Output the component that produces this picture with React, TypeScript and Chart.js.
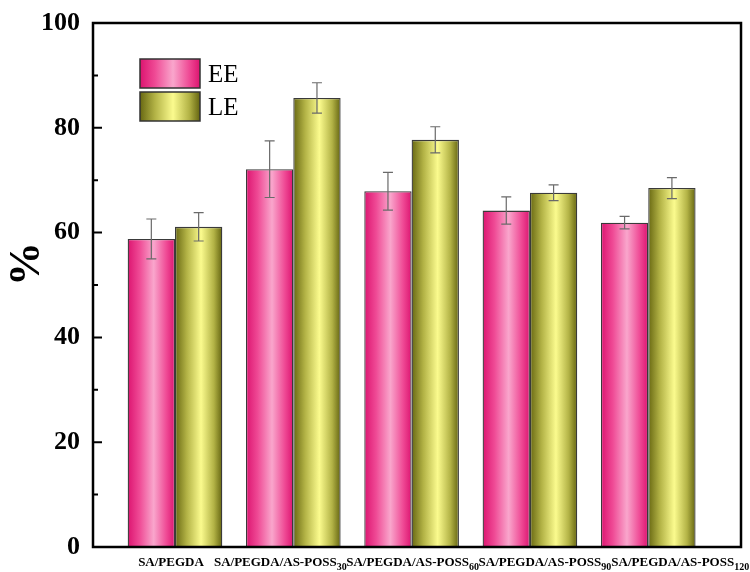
import { useEffect, useRef } from 'react';
import { Chart, registerables } from 'chart.js';

Chart.register(...registerables);

// ---- data ----
const categories = ['SA/PEGDA', 'SA/PEGDA/AS-POSS', 'SA/PEGDA/AS-POSS', 'SA/PEGDA/AS-POSS', 'SA/PEGDA/AS-POSS'];
const subscripts = ['', '30', '60', '90', '120'];
const categoryX = [1, 2, 3, 4, 5];
const eeValues = [58.8, 72.1, 67.9, 64.2, 61.9];
const eeErrors = [3.8, 5.4, 3.6, 2.6, 1.2];
const leValues = [61.1, 85.7, 77.7, 67.6, 68.5];
const leErrors = [2.7, 2.9, 2.5, 1.5, 2.0];
const seriesNames = ['EE', 'LE'];
const yTicks = [0, 20, 40, 60, 80, 100];
const yMinorTicks = [10, 30, 50, 70, 90];

// ---- layout / style ----
const labelNudgePx = [-4, -13, 1, 15, 32];
const CAT_PCT = 0.8;
const FONT = "'Liberation Serif', 'Times New Roman', serif";
const pinkStops = ['#dc1470', '#ef4a95', '#f9a6cc', '#ef4a95', '#dc1470'];
const oliveStops = ['#686812', '#b3b346', '#fbfb8e', '#b3b346', '#646410'];
const stopPos = [0, 0.25, 0.55, 0.82, 1];

function makeGradient(ctx: CanvasRenderingContext2D, x0: number, w: number, stops: string[]) {
  const g = ctx.createLinearGradient(x0, 0, x0 + w, 0);
  stops.forEach((c, i) => g.addColorStop(stopPos[i], c));
  return g;
}

function barFill(stops: string[], dsIndex: number) {
  return (c: any) => {
    const chart = c.chart;
    const xs = chart.scales?.x;
    if (!xs || c.dataIndex == null || !chart.chartArea) return stops[2];
    const center = xs.getPixelForValue(categoryX[c.dataIndex]);
    const unit = xs.getPixelForValue(1) - xs.getPixelForValue(0);
    const bw = (unit * CAT_PCT) / 2;
    const left = dsIndex === 0 ? center - bw : center;
    return makeGradient(chart.ctx, left, bw, stops);
  };
}

const decorPlugin = {
  id: 'decor',
  afterDatasetsDraw(chart: any) {
    const ctx = chart.ctx as CanvasRenderingContext2D;
    const ys = chart.scales.y;
    const errs = [eeErrors, leErrors];
    const vals = [eeValues, leValues];
    ctx.save();
    ctx.strokeStyle = '#6a6a6a';
    ctx.lineWidth = 1.2;
    [0, 1].forEach((di) => {
      const meta = chart.getDatasetMeta(di);
      meta.data.forEach((el: any, i: number) => {
        const x = el.x;
        const t = ys.getPixelForValue(vals[di][i] + errs[di][i]);
        const b = ys.getPixelForValue(vals[di][i] - errs[di][i]);
        ctx.beginPath();
        ctx.moveTo(x, t); ctx.lineTo(x, b);
        ctx.moveTo(x - 5, t); ctx.lineTo(x + 5, t);
        ctx.moveTo(x - 5, b); ctx.lineTo(x + 5, b);
        ctx.stroke();
      });
    });
    ctx.restore();
  },
  afterDraw(chart: any) {
    const ctx = chart.ctx as CanvasRenderingContext2D;
    const { left, right, top, bottom } = chart.chartArea;
    const ys = chart.scales.y;
    const xs = chart.scales.x;
    ctx.save();
    // frame
    ctx.strokeStyle = '#000';
    ctx.lineWidth = 2.5;
    ctx.strokeRect(left, top, right - left, bottom - top);
    // inward ticks
    ctx.lineWidth = 2;
    ctx.beginPath();
    yTicks.forEach((v) => {
      const y = ys.getPixelForValue(v);
      ctx.moveTo(left, y); ctx.lineTo(left + 9, y);
    });
    yMinorTicks.forEach((v) => {
      const y = ys.getPixelForValue(v);
      ctx.moveTo(left, y); ctx.lineTo(left + 5, y);
    });
    ctx.stroke();

    // y title
    ctx.fillStyle = '#000';
    ctx.font = `bold 44px ${FONT}`;
    ctx.textAlign = 'center';
    ctx.textBaseline = 'middle';
    ctx.save();
    ctx.translate(28, 264);
    ctx.rotate(-Math.PI / 2);
    ctx.fillText('%', 0, 0);
    ctx.restore();

    // x labels with subscripts
    ctx.textAlign = 'left';
    ctx.textBaseline = 'alphabetic';
    categories.forEach((name, i) => {
      ctx.font = `bold 13px ${FONT}`;
      const wMain = ctx.measureText(name).width;
      ctx.font = `bold 10px ${FONT}`;
      const wSub = subscripts[i] ? ctx.measureText(subscripts[i]).width : 0;
      const cx = xs.getPixelForValue(categoryX[i]) + labelNudgePx[i];
      const x0 = cx - (wMain + wSub) / 2;
      ctx.font = `bold 13px ${FONT}`;
      ctx.fillText(name, x0, 566);
      if (subscripts[i]) {
        ctx.font = `bold 10px ${FONT}`;
        ctx.fillText(subscripts[i], x0 + wMain, 570);
      }
    });

    // legend
    const boxes = [
      { y: 59, stops: pinkStops },
      { y: 92, stops: oliveStops },
    ];
    boxes.forEach((b, i) => {
      ctx.fillStyle = makeGradient(ctx, 140, 60, b.stops);
      ctx.fillRect(140, b.y, 60, 29);
      ctx.strokeStyle = '#333';
      ctx.lineWidth = 1.5;
      ctx.strokeRect(140, b.y, 60, 29);
      ctx.fillStyle = '#000';
      ctx.font = `25px ${FONT}`;
      ctx.textBaseline = 'middle';
      ctx.fillText(seriesNames[i], 208, b.y + 16);
    });
    ctx.restore();
  },
};

export default function App() {
  const ref = useRef<HTMLCanvasElement>(null);
  useEffect(() => {
    if (!ref.current) return;
    const chart = new Chart(ref.current, {
      type: 'bar',
      data: {
        datasets: [
          {
            label: seriesNames[0],
            data: categoryX.map((x, i) => ({ x, y: eeValues[i] })),
            backgroundColor: barFill(pinkStops, 0),
            borderColor: '#3a3a3a',
            borderWidth: 1.3,
            categoryPercentage: CAT_PCT,
            barPercentage: 1,
          },
          {
            label: seriesNames[1],
            data: categoryX.map((x, i) => ({ x, y: leValues[i] })),
            backgroundColor: barFill(oliveStops, 1),
            borderColor: '#3a3a3a',
            borderWidth: 1.3,
            categoryPercentage: CAT_PCT,
            barPercentage: 1,
          },
        ],
      },
      options: {
        animation: false,
        responsive: false,
        devicePixelRatio: 1,
        layout: { padding: { left: 0, top: 23, right: 9, bottom: 25 } },
        plugins: { legend: { display: false }, tooltip: { enabled: false } },
        scales: {
          x: {
            type: 'linear',
            min: 0.307,
            max: 5.784,
            offset: false,
            display: false,
            afterBuildTicks: (s: any) => {
              s.ticks = categoryX.map((v) => ({ value: v }));
            },
          },
          y: {
            min: 0,
            max: 100,
            afterBuildTicks: (s: any) => {
              s.ticks = yTicks.map((v) => ({ value: v }));
            },
            afterFit: (s: any) => {
              s.width = 93;
              s.paddingTop = 0;
              s.paddingBottom = 0;
            },
            grid: { display: false, drawTicks: false },
            border: { display: false },
            ticks: {
              color: '#000',
              padding: 13,
              font: { family: FONT, size: 26, weight: 'bold' },
            },
          },
        },
      },
      plugins: [decorPlugin],
    } as any);
    return () => chart.destroy();
  }, []);
  return (
    <div style={{ position: 'fixed', left: 0, top: 0, width: 750, height: 572, background: '#fff' }}>
      <canvas ref={ref} width={750} height={572} />
    </div>
  );
}
